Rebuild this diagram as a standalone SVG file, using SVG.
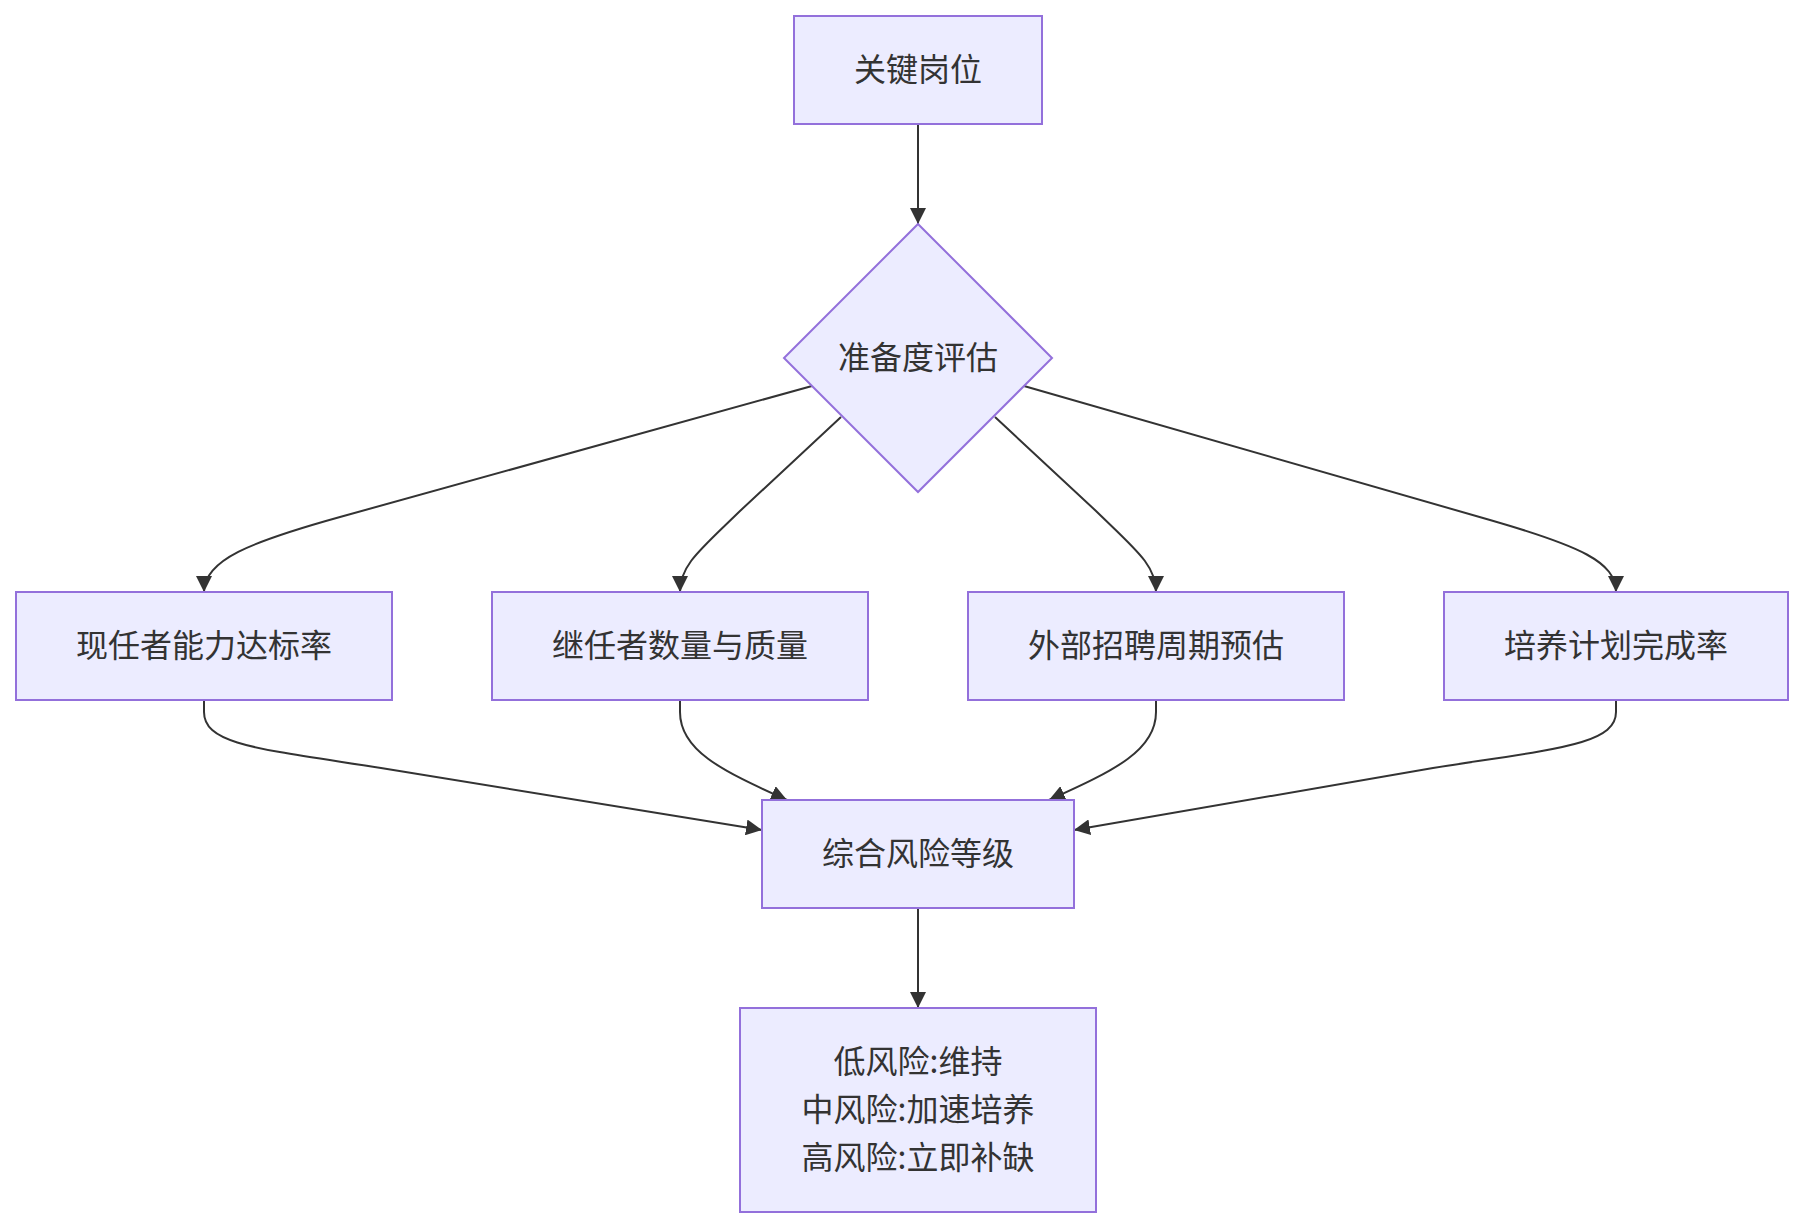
<svg xmlns="http://www.w3.org/2000/svg" width="1804" height="1228" viewBox="0 0 1804 1228">
<style>
.node rect, .node polygon { fill: #ECECFF; stroke: #9370DB; stroke-width: 2; }
.node text { font-family: "Noto Sans CJK SC", "Liberation Sans", sans-serif; font-size: 32px; fill: #333333; text-anchor: middle; dominant-baseline: central; }
.edges path { fill: none; stroke: #333333; stroke-width: 2; marker-end: url(#arrow); }
</style>
<defs>
<marker id="arrow" viewBox="0 0 10 10" refX="10" refY="5" markerUnits="userSpaceOnUse" markerWidth="16" markerHeight="16" orient="auto">
<path d="M0,0 L10,5 L0,10 z" fill="#333333"/>
</marker>
</defs>
<rect width="1804" height="1228" fill="#ffffff"/>
<g class="edges">
<path d="M918,124 L918,224"/>
<path d="M812,386 L340,517 C250,542 204,560 204,592"/>
<path d="M841,417 L740,511 C700,550 680,565 680,592"/>
<path d="M995,417 L1096,511 C1136,550 1156,565 1156,592"/>
<path d="M1024,386 L1490,520 C1580,546 1616,562 1616,592"/>
<path d="M204,700 L204,712 C204,745 260,749 381,768 L762,830"/>
<path d="M680,700 L680,712 C680,750 720,770 787,800"/>
<path d="M1156,700 L1156,712 C1156,750 1116,770 1049,800"/>
<path d="M1616,700 L1616,712 C1616,745 1554,749 1433,768 L1074,830"/>
<path d="M918,908 L918,1008"/>
</g>
<g id="node-key" class="node">
<rect x="794" y="16" width="248" height="108"/>
<text x="918" y="67">关键岗位</text>
</g>
<g id="node-assess" class="node">
<polygon points="918,224 1052,358 918,492 784,358"/>
<text x="918" y="355">准备度评估</text>
</g>
<g id="node-a" class="node">
<rect x="16" y="592" width="376" height="108"/>
<text x="204" y="643">现任者能力达标率</text>
</g>
<g id="node-b" class="node">
<rect x="492" y="592" width="376" height="108"/>
<text x="680" y="643">继任者数量与质量</text>
</g>
<g id="node-c" class="node">
<rect x="968" y="592" width="376" height="108"/>
<text x="1156" y="643">外部招聘周期预估</text>
</g>
<g id="node-d" class="node">
<rect x="1444" y="592" width="344" height="108"/>
<text x="1616" y="643">培养计划完成率</text>
</g>
<g id="node-risk" class="node">
<rect x="762" y="800" width="312" height="108"/>
<text x="918" y="851">综合风险等级</text>
</g>
<g id="node-action" class="node">
<rect x="740" y="1008" width="356" height="204"/>
<text x="918" y="1059">低风险:维持</text>
<text x="918" y="1107">中风险:加速培养</text>
<text x="918" y="1155">高风险:立即补缺</text>
</g>
</svg>
